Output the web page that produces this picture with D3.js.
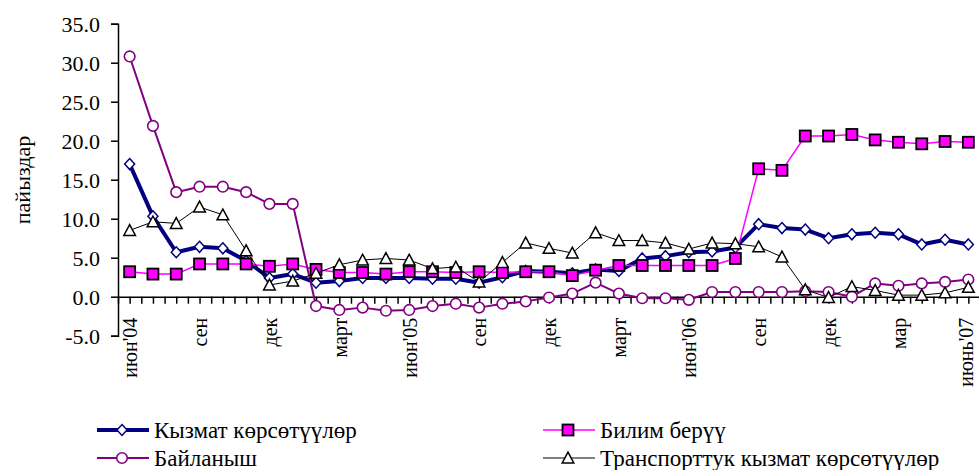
<!DOCTYPE html>
<html>
<head>
<meta charset="utf-8">
<script src="https://cdn.jsdelivr.net/npm/d3@7"></script>
<style>
  body { margin: 0; background: #fff; }
  svg text { font-family: "Liberation Serif", "Times New Roman", "DejaVu Serif", serif !important; }
</style>
</head>
<body>
<div id="app"></div>
<script>
// monthly, июн 2004 .. июн 2007 (37 points)
const tickIdx = [0, 3, 6, 9, 12, 15, 18, 21, 24, 27, 30, 33, 36]
const tickLabels = ["июн'04", "сен", "дек", "март", "июн'05", "сен", "дек", "март", "июн'06", "сен", "дек", "мар", "июнь'07"]

const services = [17.0, 10.3, 5.7, 6.4, 6.2, 4.6, 2.4, 2.9, 1.8, 2.0, 2.4, 2.4, 2.4, 2.3, 2.3, 1.8, 2.5, 3.3, 3.2, 3.0, 3.5, 3.3, 4.9, 5.2, 5.7, 5.8, 6.3, 9.3, 8.8, 8.6, 7.5, 8.0, 8.2, 8.0, 6.7, 7.3, 6.7]
const education = [3.2, 2.9, 2.9, 4.2, 4.2, 4.2, 3.9, 4.2, 3.5, 3.1, 3.1, 2.9, 3.2, 3.2, 3.1, 3.2, 3.1, 3.2, 3.2, 2.7, 3.4, 4.0, 4.0, 4.0, 4.0, 4.0, 4.9, 16.4, 16.2, 20.6, 20.6, 20.8, 20.1, 19.8, 19.6, 19.9, 19.8]
const communication = [30.8, 21.9, 13.4, 14.1, 14.1, 13.4, 11.9, 11.9, -1.2, -1.7, -1.4, -1.8, -1.7, -1.2, -0.9, -1.4, -0.9, -0.6, -0.1, 0.4, 1.8, 0.4, -0.2, -0.2, -0.4, 0.6, 0.6, 0.6, 0.6, 0.7, 0.6, 0.0, 1.7, 1.4, 1.7, 1.9, 2.2]
const transport = [8.5, 9.6, 9.4, 11.5, 10.5, 5.9, 1.5, 2.0, 3.0, 4.1, 4.7, 4.9, 4.7, 3.6, 3.8, 1.9, 4.4, 6.9, 6.2, 5.6, 8.2, 7.2, 7.2, 6.9, 6.1, 6.9, 6.8, 6.4, 5.1, 0.9, -0.1, 1.3, 0.8, 0.2, 0.2, 0.5, 1.2]

const yTicks = [-5, 0, 5, 10, 15, 20, 25, 30, 35]

const series = [
    {name: "Кызмат көрсөтүүлөр", values: services, color: "#000080", width: 4, marker: "diamond", fill: "#fff", mstroke: "#000080"},
    {name: "Билим берүү", values: education, color: "#ff00ff", width: 1.5, marker: "square", fill: "#ff00ff", mstroke: "#000"},
    {name: "Байланыш", values: communication, color: "#800080", width: 2, marker: "circle", fill: "#fff", mstroke: "#800080"},
    {name: "Транспорттук кызмат көрсөтүүлөр", values: transport, color: "#000", width: 1, marker: "triangle", fill: "#fff", mstroke: "#000"},
]

const width = 979, height = 470
const serif = "Liberation Serif"

const x = d3.scaleLinear().domain([-0.5, 36.5]).range([118, 980])
const y = d3.scaleLinear().domain([-5, 35]).range([335.7, 23.7])

const svg = d3.select("#app").append("svg")
    .attr("width", width)
    .attr("height", height)
    .attr("font-family", serif)

// y axis
const yAxis = svg.append("g")
    .attr("transform", `translate(${x(-0.5)},0)`)
    .call(d3.axisLeft(y).tickValues(yTicks).tickSize(7).tickPadding(11)
        .tickFormat(d => d.toFixed(1)))
yAxis.attr("font-family", serif)
yAxis.select(".domain").attr("stroke", "#000").attr("stroke-width", 1.5)
yAxis.selectAll(".tick line").attr("stroke", "#000").attr("stroke-width", 1.5)
yAxis.selectAll("text")
    .attr("font-size", 22)
    .attr("fill", "#000")
    .attr("dy", "0.34em")

svg.append("text")
    .attr("transform", `translate(30,180) rotate(-90)`)
    .attr("text-anchor", "middle")
    .attr("font-size", 22)
    .text("пайыздар")

// x axis on the zero line, ticks at every half month
const xAxis = svg.append("g")
    .attr("transform", `translate(0,${y(0)})`)
    .call(d3.axisBottom(x)
        .tickValues(d3.range(-0.5, 36.51, 0.5))
        .tickSize(7)
        .tickSizeOuter(0)
        .tickFormat(d => {
            const k = tickIdx.indexOf(d)
            return k >= 0 ? tickLabels[k] : ""
        }))
xAxis.attr("font-family", serif)
xAxis.select(".domain").attr("stroke", "#000").attr("stroke-width", 1.5)
xAxis.selectAll(".tick line").attr("stroke", "#000").attr("stroke-width", 1.5)
xAxis.selectAll("text")
    .attr("font-size", 20)
    .attr("fill", "#000")
    .attr("transform", "rotate(-90)")
    .attr("text-anchor", "end")
    .attr("x", -21)
    .attr("y", 0)
    .attr("dy", d => d === 36 ? "0.2em" : "0.34em")

function drawMarker(g, s, cx, cy) {
    if (s.marker === "diamond") {
        g.append("path").attr("d", `M${cx},${cy - 5.5}L${cx + 5},${cy}L${cx},${cy + 5.5}L${cx - 5},${cy}Z`)
            .attr("fill", s.fill).attr("stroke", s.mstroke).attr("stroke-width", 1.5)
    } else if (s.marker === "square") {
        g.append("rect").attr("x", cx - 5.5).attr("y", cy - 5.5).attr("width", 11).attr("height", 11)
            .attr("fill", s.fill).attr("stroke", s.mstroke).attr("stroke-width", 1.8)
    } else if (s.marker === "circle") {
        g.append("circle").attr("cx", cx).attr("cy", cy).attr("r", 5.3)
            .attr("fill", s.fill).attr("stroke", s.mstroke).attr("stroke-width", 1.6)
    } else {
        g.append("path").attr("d", `M${cx},${cy - 5.8}L${cx + 5.8},${cy + 5}L${cx - 5.8},${cy + 5}Z`)
            .attr("fill", s.fill).attr("stroke", s.mstroke).attr("stroke-width", 1.5)
    }
}

const line = d3.line().x((d, i) => x(i)).y(d => y(d))

for (const s of series) {
    const g = svg.append("g")
    g.append("path")
        .attr("d", line(s.values))
        .attr("fill", "none")
        .attr("stroke", s.color)
        .attr("stroke-width", s.width)
        .attr("stroke-linejoin", "round")
    s.values.forEach((v, i) => drawMarker(g, s, x(i), y(v)))
}

// legend
const legendPos = [[97, 430], [543, 430], [97, 458], [543, 458]]
series.forEach((s, i) => {
    const [lx, ly] = legendPos[i]
    const g = svg.append("g")
    g.append("line").attr("x1", lx).attr("x2", lx + 52).attr("y1", ly).attr("y2", ly)
        .attr("stroke", s.color).attr("stroke-width", s.width)
    drawMarker(g, s, lx + 25, ly)
    g.append("text").attr("x", lx + 57).attr("y", ly).attr("dy", "0.33em")
        .attr("font-size", 23)
        .text(s.name)
})
</script>
</body>
</html>
